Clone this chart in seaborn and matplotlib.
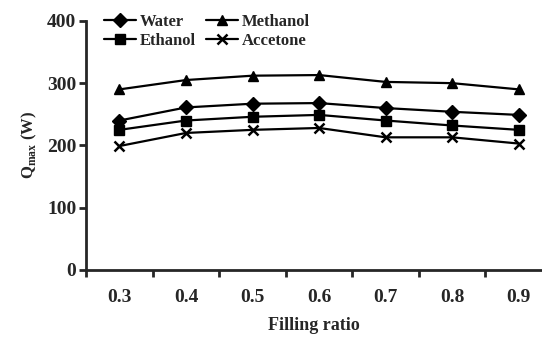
import matplotlib.pyplot as plt
import seaborn as sns
from matplotlib.ticker import FixedLocator

# values
filling_ratio = ['0.3', '0.4', '0.5', '0.6', '0.7', '0.8', '0.9']
water = [240, 261, 267, 268, 260, 254, 249]
ethanol = [225, 240, 246, 249, 240, 232, 225]
methanol = [290, 305, 312, 313, 302, 300, 290]
accetone = [199, 220, 225, 228, 213, 213, 203]

fluids = ['Water', 'Ethanol', 'Methanol', 'Accetone']
series = [water, ethanol, methanol, accetone]
markers = ['D', 's', '^', 'x']

sns.set_style('ticks')
plt.rcParams['font.family'] = ['Liberation Serif', 'DejaVu Serif']
plt.rcParams['font.weight'] = 'bold'
plt.rcParams['mathtext.fontset'] = 'custom'
plt.rcParams['mathtext.rm'] = 'Liberation Serif:bold'

fig = plt.figure(figsize=(5.42, 3.37), dpi=100)
ax = fig.add_axes([0.159, 0.199, 0.841, 0.739])

pos = list(range(len(filling_ratio)))
for name, vals, mk in zip(fluids, series, markers):
    sns.lineplot(x=pos, y=vals, color='black', marker=mk, markersize=7,
                 markeredgecolor='black', markeredgewidth=1.8 if mk == 'x' else 1,
                 linewidth=1.6, label=name, ax=ax)

ax.set_xlim(-0.5, 6.35)
ax.set_ylim(0, 400)
ax.set_yticks([0, 100, 200, 300, 400])
ax.set_xticks(pos)
ax.set_xticklabels(filling_ratio)
ax.xaxis.set_minor_locator(FixedLocator([i - 0.5 for i in pos]))
ax.tick_params(axis='x', which='major', length=0, pad=14, labelsize=14)
ax.tick_params(axis='x', which='minor', length=5, width=2, direction='out')
ax.tick_params(axis='y', length=5, width=2, labelsize=14, pad=2)

sns.despine(ax=ax)
ax.spines['left'].set_linewidth(2)
ax.spines['bottom'].set_linewidth(2)

ax.set_xlabel('Filling ratio', fontsize=13, fontweight='bold', labelpad=8)
ax.set_ylabel(r'Q$_{\mathregular{max}}$ (W)', fontsize=12, fontweight='bold', labelpad=6)

handles, labels = ax.get_legend_handles_labels()
ax.legend(handles, labels, ncol=2, frameon=False, loc='upper left',
          bbox_to_anchor=(0.025, 1.055), fontsize=12, handlelength=1.9,
          columnspacing=0.6, handletextpad=0.25, labelspacing=0.2,
          borderaxespad=0)

fig.savefig('out.png', dpi=100)
